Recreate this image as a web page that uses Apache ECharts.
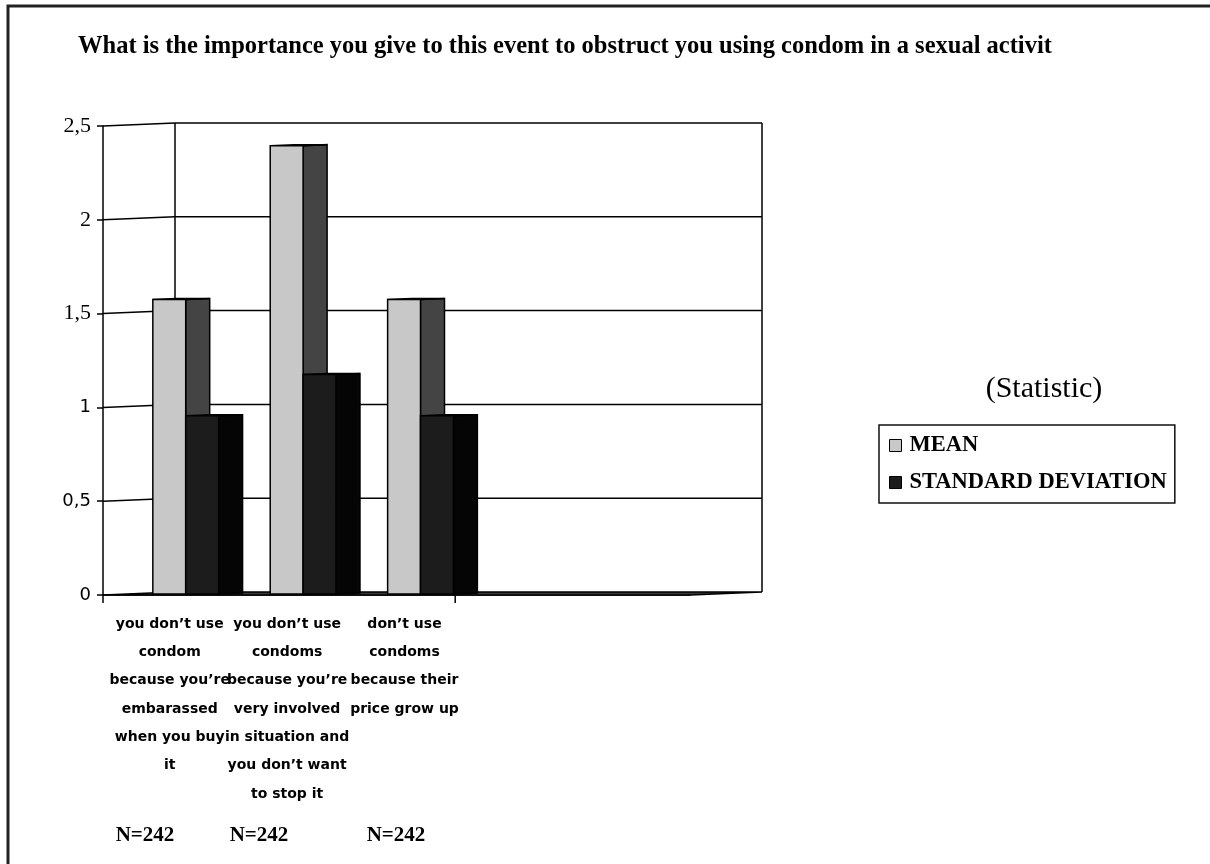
<!DOCTYPE html>
<html>
<head>
<meta charset="utf-8">
<title>Condom use obstacles</title>
<script src="https://cdn.jsdelivr.net/npm/echarts@6/dist/echarts.min.js"></script>
<style>
  html, body { margin: 0; padding: 0; background: #fff; }
  #chart { width: 1210px; height: 864px; }
</style>
</head>
<body>
<div id="chart"></div>
<script>
// Survey items (wrapped as they appear under the axis); the last two slots stay empty.
const categories = [
  "you don’t use\ncondom\nbecause you’re\nembarassed\nwhen you buy\nit",
  "you don’t use\ncondoms\nbecause you’re\nvery involved\nin situation and\nyou don’t want\nto stop it",
  "don’t use\ncondoms\nbecause their\nprice grow up",
  "",
  ""
];
const meanValues = [1.57, 2.39, 1.57];
const sdValues = [0.95, 1.17, 0.95];
const sampleSizes = [242, 242, 242];
const yTickValues = [0, 0.5, 1, 1.5, 2, 2.5];
const seriesNames = ["MEAN", "STANDARD DEVIATION"];
// Category boundaries that carry a tick mark on the floor edge
const xTickBoundaries = [0, 3];

// Depth of the pseudo-3D box (back wall shift in pixels)
const DEPTH_X = 72;
const DEPTH_Y = -3;
const EDGE = '#000';

function barRenderer(slot, frontColor, sideColor) {
  return function (params, api) {
    const idx = api.value(0);
    const val = api.value(1);
    const base = api.coord([idx, 0]);
    const topY = api.coord([idx, val])[1];
    const band = api.size([1, 0])[0];
    const w = band * 0.28;
    const dx = DEPTH_X / 3, dy = DEPTH_Y / 3;
    const x0 = base[0] + dx + (slot - 1) * w;
    const x1 = x0 + w;
    const yt = topY + dy;
    const yb = base[1] + dy;
    const stroke = { stroke: EDGE, lineWidth: 1.5, lineJoin: 'miter' };
    return {
      type: 'group',
      children: [
        { type: 'polygon', shape: { points: [[x1, yt], [x1 + dx, yt + dy], [x1 + dx, yb + dy], [x1, yb]] },
          style: Object.assign({ fill: sideColor }, stroke) },
        { type: 'polygon', shape: { points: [[x0, yt], [x1, yt], [x1 + dx, yt + dy], [x0 + dx, yt + dy]] },
          style: Object.assign({ fill: sideColor }, stroke) },
        { type: 'rect', shape: { x: x0, y: yt, width: w, height: yb - yt },
          style: Object.assign({ fill: frontColor }, stroke) }
      ]
    };
  };
}

function wallRenderer(params, api) {
  const v = api.value(1);
  const cs = params.coordSys;
  const xl = cs.x, xr = cs.x + cs.width;
  const y = api.coord([0, v])[1];
  const line = { stroke: EDGE, lineWidth: 1.5, fill: null };
  const children = [];
  if (v === yTickValues[0]) {
    children.push({ type: 'polygon',
      shape: { points: [[xl, y], [xr, y], [xr + DEPTH_X, y + DEPTH_Y], [xl + DEPTH_X, y + DEPTH_Y]] },
      style: { fill: '#3a3a3a', stroke: EDGE, lineWidth: 1.5 } });
    // tick marks below the front floor edge
    const band = api.size([1, 0])[0];
    xTickBoundaries.forEach(function (b) {
      const bx = api.coord([b, 0])[0] - band / 2;
      children.push({ type: 'line', shape: { x1: bx, y1: y, x2: bx, y2: y + 8 }, style: line });
    });
  } else {
    children.push({ type: 'polyline',
      shape: { points: [[xl, y], [xl + DEPTH_X, y + DEPTH_Y], [xr + DEPTH_X, y + DEPTH_Y]] },
      style: line });
  }
  if (v === yTickValues[yTickValues.length - 1]) {
    const y0 = api.coord([0, 0])[1];
    children.push({ type: 'line', shape: { x1: xl + DEPTH_X, y1: y + DEPTH_Y, x2: xl + DEPTH_X, y2: y0 + DEPTH_Y }, style: line });
    children.push({ type: 'line', shape: { x1: xr + DEPTH_X, y1: y + DEPTH_Y, x2: xr + DEPTH_X, y2: y0 + DEPTH_Y }, style: line });
  }
  return { type: 'group', children: children };
}

const chart = echarts.init(document.getElementById('chart'), null, { renderer: 'canvas' });

const nCenters = [145, 259, 396];

chart.setOption({
  animation: false,
  backgroundColor: '#fff',
  title: {
    text: 'What is the importance you give to this event to obstruct you using condom in a sexual activit',
    left: 78, top: 34, padding: 0,
    textStyle: { fontFamily: 'Liberation Serif', fontWeight: 'bold', fontSize: 24.5, color: '#000' }
  },
  legend: {
    data: seriesNames,
    orient: 'vertical',
    left: 879, top: 425,
    padding: [9, 8, 9, 10],
    itemGap: 14,
    itemWidth: 12, itemHeight: 12,
    icon: 'rect',
    borderColor: '#111', borderWidth: 1.5,
    itemStyle: { borderColor: '#000', borderWidth: 1 },
    textStyle: { fontFamily: 'Liberation Serif', fontWeight: 'bold', fontSize: 22.5, color: '#000',
      padding: [0, 0, 0, 3] }
  },
  grid: { left: 103, top: 126, width: 587, height: 469 },
  xAxis: {
    type: 'category',
    data: categories,
    boundaryGap: true,
    axisLine: { lineStyle: { color: EDGE, width: 1.5 } },
    axisTick: { show: false },
    axisLabel: {
      interval: 0, margin: 15, color: '#000',
      fontFamily: 'DejaVu Sans', fontWeight: 'bold', fontSize: 14, lineHeight: 28.3,
      padding: [0, 0, 0, 16]
    },
    splitLine: { show: false }
  },
  yAxis: {
    type: 'value',
    min: 0, max: 2.5, interval: 0.5,
    axisLine: { show: true, lineStyle: { color: EDGE, width: 1.5 } },
    axisTick: { show: true, length: 6, lineStyle: { color: EDGE, width: 1.5 } },
    splitLine: { show: false },
    axisLabel: {
      margin: 12, color: '#000',
      formatter: function (v) {
        const s = String(v).replace('.', ',');
        return v >= 1.5 ? '{serif|' + s + '}' : '{sans|' + s + '}';
      },
      rich: {
        serif: { fontFamily: 'Liberation Serif', fontSize: 22, color: '#000' },
        sans: { fontFamily: 'DejaVu Sans', fontSize: 18, color: '#000' }
      }
    }
  },
  series: [
    {
      name: 'walls', type: 'custom', z: 1, silent: true,
      data: yTickValues.map(v => [0, v]),
      encode: { x: 0, y: 1 },
      renderItem: wallRenderer
    },
    {
      name: seriesNames[0], type: 'custom', z: 3,
      itemStyle: { color: '#c8c8c8' },
      data: meanValues.map((v, i) => [i, v]),
      encode: { x: 0, y: 1 },
      renderItem: barRenderer(0, '#c8c8c8', '#444444')
    },
    {
      name: seriesNames[1], type: 'custom', z: 4,
      itemStyle: { color: '#1c1c1c' },
      data: sdValues.map((v, i) => [i, v]),
      encode: { x: 0, y: 1 },
      renderItem: barRenderer(1, '#1c1c1c', '#050505')
    }
  ],
  graphic: [
    { type: 'polyline', shape: { points: [[8, 864], [8, 6], [1210, 6]] },
      style: { stroke: '#222', lineWidth: 3, fill: null } },
    { type: 'text', x: 1044, y: 389,
      style: { text: '(Statistic)', fontFamily: 'Liberation Serif', fontSize: 30, fill: '#000',
        align: 'center', verticalAlign: 'middle' } }
  ].concat(sampleSizes.map((n, i) => ({
    type: 'text', x: nCenters[i], y: 836,
    style: { text: 'N=' + n, fontFamily: 'Liberation Serif', fontWeight: 'bold', fontSize: 21,
      fill: '#000', align: 'center', verticalAlign: 'middle' }
  })))
});
</script>
</body>
</html>
